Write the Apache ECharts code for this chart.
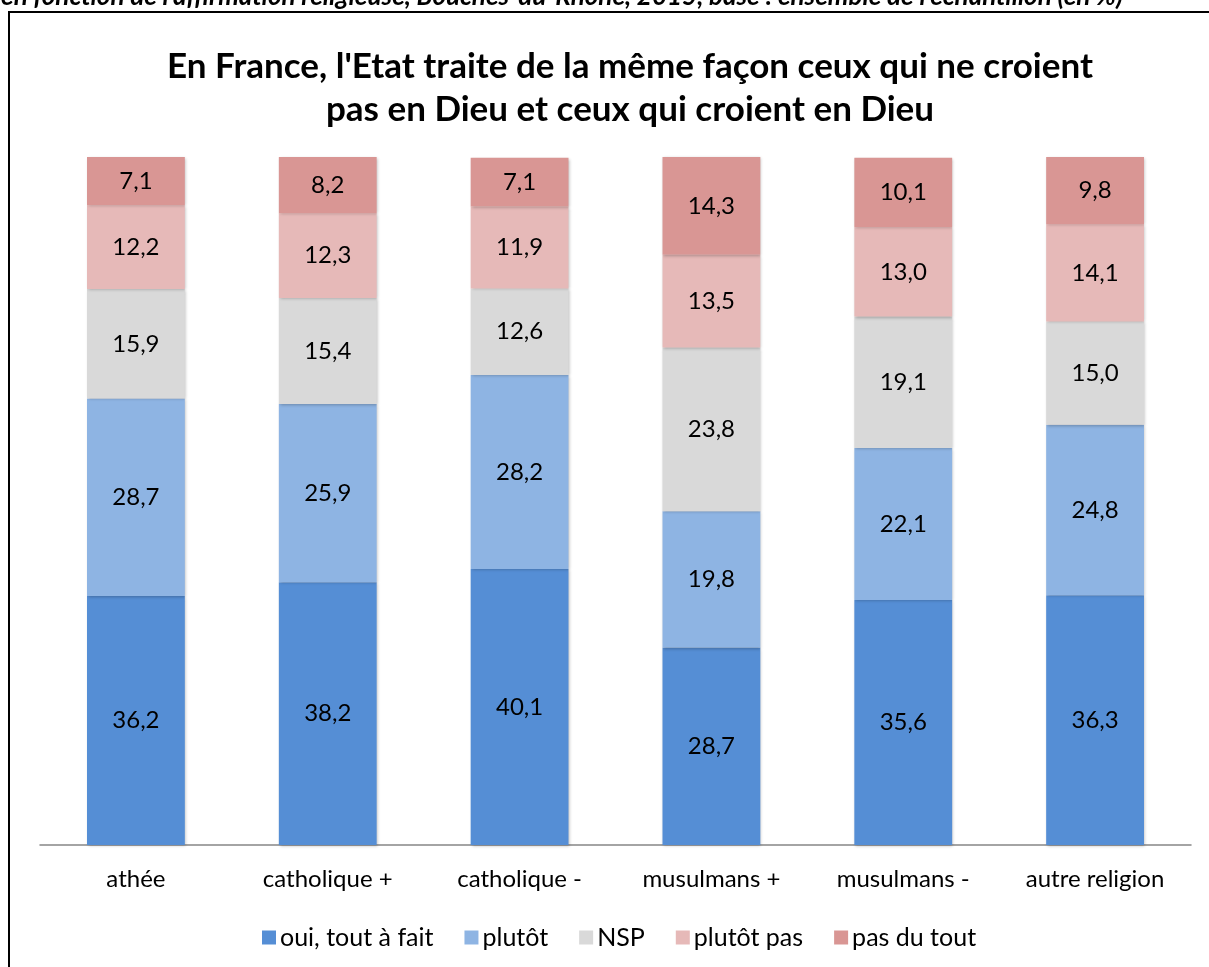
<!DOCTYPE html>
<html>
<head>
<meta charset="utf-8">
<script src="https://cdn.jsdelivr.net/npm/echarts@6/dist/echarts.min.js"></script>
<style>
  html, body { margin: 0; padding: 0; background: #fff; overflow: hidden; }
  #chart { width: 1209px; height: 967px; }
</style>
</head>
<body>
<div id="chart"></div>
<script>
// data
var categories = ['athée', 'catholique +', 'catholique -', 'musulmans +', 'musulmans -', 'autre religion'];
var ouiToutAFait = [36.2, 38.2, 40.1, 28.7, 35.6, 36.3];
var plutot = [28.7, 25.9, 28.2, 19.8, 22.1, 24.8];
var nsp = [15.9, 15.4, 12.6, 23.8, 19.1, 15.0];
var plutotPas = [12.2, 12.3, 11.9, 13.5, 13.0, 14.1];
var pasDuTout = [7.1, 8.2, 7.1, 14.3, 10.1, 9.8];

var seriesNames = ['oui, tout à fait', 'plutôt', 'NSP', 'plutôt pas', 'pas du tout'];
var seriesData = [ouiToutAFait, plutot, nsp, plutotPas, pasDuTout];
var colors = ['#558ed5', '#8eb4e3', '#d9d9d9', '#e6b9b8', '#d99694'];

var font = 'Lato, "Liberation Sans", sans-serif';

var chart = echarts.init(document.getElementById('chart'));

var series = seriesNames.map(function (name, i) {
  return {
    name: name,
    type: 'bar',
    stack: 'total',
    barWidth: '51%',
    data: seriesData[i],
    itemStyle: {
      color: colors[i],
      shadowBlur: 3,
      shadowOffsetX: 1,
      shadowOffsetY: 1,
      shadowColor: 'rgba(0,0,0,0.25)'
    },
    label: {
      show: true,
      position: 'inside',
      color: '#000',
      fontSize: 24,
      fontFamily: font,
      formatter: function (p) { return p.value.toFixed(1).replace('.', ','); }
    }
  };
});

var option = {
  animation: false,
  color: colors,
  title: {
    text: "En France, l'Etat traite de la même façon ceux qui ne croient\npas en Dieu et ceux qui croient en Dieu",
    left: 625,
    top: 40,
    textAlign: 'center',
    textStyle: {
      fontSize: 35,
      fontWeight: 'bold',
      fontFamily: font,
      color: '#000',
      lineHeight: 43
    }
  },
  legend: {
    data: seriesNames,
    left: 257,
    top: 920,
    icon: 'rect',
    itemWidth: 14,
    itemHeight: 14,
    itemGap: 31,
    textStyle: { fontSize: 25, fontFamily: font, color: '#000', padding: [0, 0, 0, -1] }
  },
  grid: { left: 40, right: 18, top: 157, bottom: 122, containLabel: false },
  xAxis: {
    type: 'category',
    data: categories,
    axisLine: { lineStyle: { color: '#868686', width: 1.5 } },
    axisTick: { show: false },
    axisLabel: { fontSize: 24, fontFamily: font, color: '#000', margin: 22 }
  },
  yAxis: {
    type: 'value',
    min: 0,
    max: 100,
    show: false
  },
  graphic: [
    {
      type: 'polyline',
      shape: { points: [[9, 967], [9, 12], [1209, 12]] },
      style: { stroke: '#000', lineWidth: 2, fill: null }
    },
    {
      type: 'text',
      x: 1,
      y: 10,
      style: {
        text: "en fonction de l'affirmation religieuse, Bouches-du-Rhône, 2015, base : ensemble de l'échantillon (en %)",
        font: 'italic bold 26px ' + font,
        fill: '#000',
        textAlign: 'left',
        textVerticalAlign: 'bottom'
      }
    }
  ],
  series: series
};

chart.setOption(option);
</script>
</body>
</html>
